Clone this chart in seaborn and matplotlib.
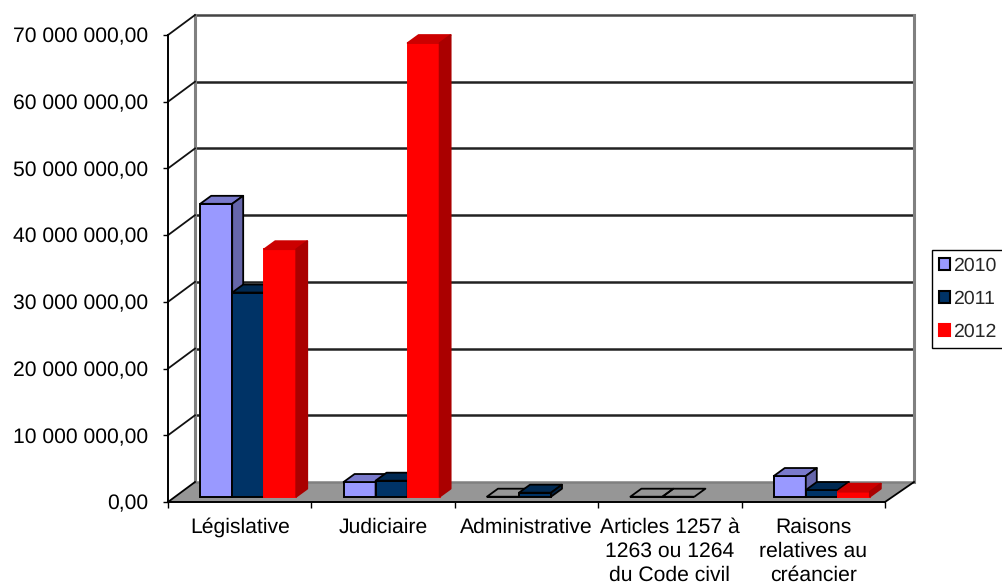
#!/usr/bin/env python3

import numpy as np
import pandas as pd
import matplotlib
matplotlib.use("Agg")
import matplotlib.pyplot as plt
import seaborn as sns
from matplotlib.patches import Patch, Polygon
from matplotlib.lines import Line2D
from matplotlib.ticker import FuncFormatter
from matplotlib.transforms import Affine2D, IdentityTransform

categories = ["Législative", "Judiciaire", "Administrative",
              "Articles 1257 à\n1263 ou 1264\ndu Code civil",
              "Raisons\nrelatives au\ncréancier"]
years = ["2010", "2011", "2012"]
values_2010 = [43900000, 2200000, 0, 0, 3100000]
values_2011 = [30600000, 2400000, 600000, 0, 1000000]
values_2012 = [37100000, 68000000, np.nan, np.nan, 750000]

colors = ["#9999FF", "#003366", "#FF0000"]
top_colors = ["#7A7ACC", "#002952", "#CC0000"]
side_colors = ["#6666AA", "#002244", "#AA0000"]
edge_colors = ["black", "black", "#FF0000"]

# the look of the old 3D chart, offsets in pixels
WALL_DX, WALL_DY = 27, 20
BAR_DX, BAR_DY = 8.5, 5.3
BAR_DEPTH_DX, BAR_DEPTH_DY = 11, 8

sns.set_theme(style="white")
plt.rcParams["font.family"] = ["Liberation Sans", "DejaVu Sans"]
plt.rcParams["text.hinting"] = "none"

df = pd.DataFrame({
    "categorie": categories * 3,
    "annee": [y for y in years for _ in categories],
    "valeur": values_2010 + values_2011 + values_2012,
})

W, H = 1003, 585
fig = plt.figure(figsize=(W / 100, H / 100), dpi=100)
ax = fig.add_axes([168 / W, (H - 502) / H, 717 / W, 467 / H])
ax.patch.set_alpha(0)

sns.barplot(data=df, x="categorie", y="valeur", hue="annee", hue_order=years,
            palette=colors, order=categories, width=0.67, gap=0,
            saturation=1, legend=False, ax=ax)

ax.set_xlim(-0.5, len(categories) - 0.5)
ax.set_ylim(0, 70000000)
ax.set_xlabel("")
ax.set_ylabel("")
ax.set_yticks(np.arange(0, 70000001, 10000000))
ax.yaxis.set_major_formatter(
    FuncFormatter(lambda v, _: f"{v:,.2f}".replace(",", " ").replace(".", ",")))
ax.tick_params(axis="y", labelsize=15.2, left=True, length=3.6, width=1,
               color="black", pad=10.5, labelcolor="black")
ax.set_xticks(range(len(categories)))
ax.set_xticklabels(categories, linespacing=1.31)
ax.set_xticks(np.arange(-0.5, len(categories)), minor=True)
ax.tick_params(axis="x", which="major", labelsize=15.2, length=0, pad=10.9, labelcolor="black")
ax.tick_params(axis="x", which="minor", bottom=True, length=4.5, width=1, color="black")

for name in ["top", "right"]:
    ax.spines[name].set_visible(False)
for name in ["left", "bottom"]:
    ax.spines[name].set_color("black")
    ax.spines[name].set_linewidth(1.4)
    ax.spines[name].set_zorder(3)

fig.canvas.draw()
pixel = IdentityTransform()


def px(x, y):
    return ax.transData.transform((x, y))


def wall_line(points, color, lw, z=1):
    xs, ys = zip(*points)
    ax.add_line(Line2D(xs, ys, transform=pixel, color=color, lw=lw, zorder=z,
                       clip_on=False, solid_capstyle="projecting"))


# floor and back walls
x0, x1 = ax.get_xlim()
y0, y1 = ax.get_ylim()
back = np.array([WALL_DX, WALL_DY])
back_right = np.array([29, 20])
ax.add_patch(Polygon([px(x0, y0), px(x1, y0), px(x1, y0) + back_right, px(x0, y0) + back],
                     transform=pixel, facecolor="#969696", edgecolor="none", zorder=0.5, clip_on=False))
for tick in ax.get_yticks():
    start = px(x0, tick)
    end = px(x1, tick) + back_right
    if tick > y0:
        wall_line([start, start + back], "#111111", 1.3, z=1.2)
        color = "#444444" if tick == y1 else "#222222"
        wall_line([start + back, end], color, 1.8)
    else:
        wall_line([start, start + back], "black", 1.3, z=1.2)
        wall_line([start + back, end], "#808080", 1.8, z=0.8)
wall_line([px(x0, y0) + back, px(x0, y1) + back], "#808080", 2.2, z=1.1)
wall_line([px(x1, y0) + back_right, px(x1, y1) + back_right], "#808080", 2.2, z=1.1)
wall_line([px(x1, y0), px(x1, y0) + back_right], "black", 1.3, z=1.2)

# front, side and top faces of each bar
shift = ax.transData + Affine2D().translate(BAR_DX, BAR_DY)
depth = np.array([BAR_DEPTH_DX, BAR_DEPTH_DY])
offset = np.array([BAR_DX, BAR_DY])
hex_colors = [matplotlib.colors.to_hex(c).upper() for c in colors]
for bar in ax.patches[:]:
    if not isinstance(bar, matplotlib.patches.Rectangle):
        continue
    height = bar.get_height()
    if np.isnan(height):
        bar.set_visible(False)
        continue
    series = hex_colors.index(matplotlib.colors.to_hex(bar.get_facecolor()).upper())
    z = 5 + bar.get_x() + 0.6
    bar.set_transform(shift)
    bar.set_clip_on(False)
    bar.set_zorder(z)
    bar.set_edgecolor(edge_colors[series])
    bar.set_linewidth(1.4)

    left, right = bar.get_x(), bar.get_x() + bar.get_width()
    bl, br = px(left, 0) + offset, px(right, 0) + offset
    tl, tr = px(left, height) + offset, px(right, height) + offset
    if height > 0:
        top_face, side_face = top_colors[series], side_colors[series]
    else:
        top_face, side_face = "none", "none"
    top = Polygon([tl, tr, tr + depth, tl + depth], transform=pixel, facecolor=top_face,
                  edgecolor="black" if series < 2 else top_colors[series],
                  lw=1.3, zorder=z, clip_on=False, joinstyle="round")
    ax.add_patch(top)
    if height > 0:
        side = Polygon([br, tr, tr + depth, br + depth], transform=pixel, facecolor=side_face,
                       edgecolor="black" if series < 2 else side_colors[series],
                       lw=1.3, zorder=z, clip_on=False, joinstyle="round")
        ax.add_patch(side)

handles = [Patch(facecolor=c, edgecolor=e, linewidth=1.5) for c, e in zip(colors, edge_colors)]
fig.legend(handles, years, loc="upper left", bbox_to_anchor=(932 / W, 1 - 249.5 / H),
           bbox_transform=fig.transFigure, fontsize=14, frameon=True, fancybox=False,
           edgecolor="black", framealpha=1, borderpad=0.38, borderaxespad=0, labelspacing=0.8,
           handlelength=0.55, handleheight=0.55, handletextpad=0.15)
fig.legends[0].get_frame().set_linewidth(1)

fig.savefig("out.png", dpi=100)
